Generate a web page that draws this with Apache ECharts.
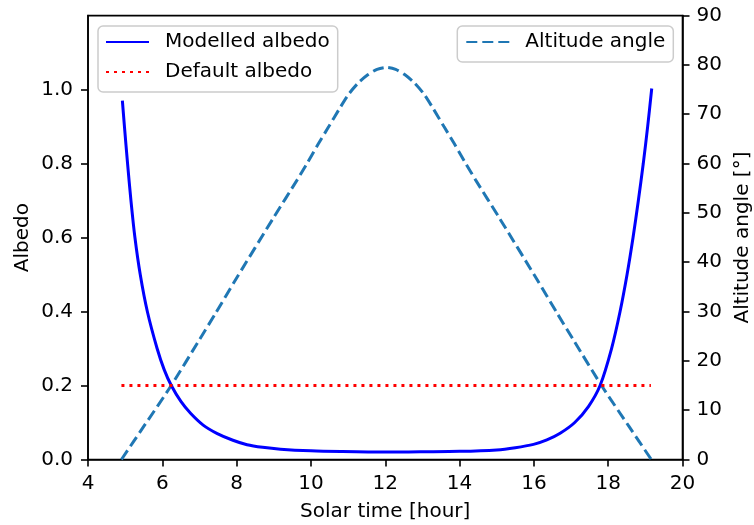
<!DOCTYPE html>
<html>
<head>
<meta charset="utf-8">
<script src="https://cdn.jsdelivr.net/npm/echarts@6/dist/echarts.min.js"></script>
<style>
html,body{margin:0;padding:0;background:#fff;}
#chart{width:754px;height:525px;}
</style>
</head>
<body>
<div id="chart"></div>
<script>
// Modelled albedo (left axis)
const albedoHours = [4.925, 4.981, 5.065, 5.156, 5.263, 5.406, 5.597, 5.86, 6.05, 6.242, 6.5, 6.76, 7.1, 7.48, 7.9, 8.28, 8.7, 9.18, 10.0, 10.8, 12.0, 12.94, 14.0, 15.0, 15.5, 15.99, 16.35, 16.707, 17.1, 17.468, 17.782, 18.091, 18.32, 18.508, 18.669, 18.812, 18.944, 19.062, 19.172];
const albedoValues = [0.970, 0.90, 0.80, 0.70, 0.60, 0.50, 0.40, 0.30, 0.243, 0.20, 0.157, 0.125, 0.093, 0.070, 0.052, 0.040, 0.033, 0.028, 0.0235, 0.0215, 0.020, 0.021, 0.022, 0.026, 0.032, 0.041, 0.053, 0.071, 0.100, 0.143, 0.20, 0.30, 0.40, 0.50, 0.60, 0.70, 0.80, 0.90, 1.003];

// Default albedo (left axis)
const defaultHours = [4.9, 19.15];
const defaultValues = [0.2, 0.2];

// Altitude angle (right axis, degrees)
const altitudeHours = [4.9, 5.5, 6.24, 7.0, 7.43, 8.0, 9.0, 9.63, 9.9, 10.2, 10.48, 10.79, 11.03, 11.28, 11.53, 11.78, 12.03, 12.28, 12.53, 12.78, 13.03, 13.27, 13.58, 13.86, 14.16, 14.43, 15.06, 16.06, 16.63, 17.06, 17.82, 18.56, 19.16];
const altitudeValues = [0, 6.7, 15, 24.3, 29.6, 36.8, 49.1, 56.7, 60.1, 64.0, 67.5, 71.4, 74.2, 76.4, 78.0, 79.1, 79.5, 79.1, 78.0, 76.4, 74.2, 71.4, 67.5, 64.0, 60.1, 56.7, 49.1, 36.8, 29.6, 24.3, 15, 6.7, 0];

const xTicks = [4, 6, 8, 10, 12, 14, 16, 18, 20];
const leftTicks = [0, 0.2, 0.4, 0.6, 0.8, 1.0];
const rightTicks = [0, 10, 20, 30, 40, 50, 60, 70, 80, 90];

const zip = (xs, ys) => xs.map((x, i) => [x, ys[i]]);
const FONT = 'DejaVu Sans';
const chart = echarts.init(document.getElementById('chart'), null, {renderer: 'canvas'});

const axisCommon = {
  axisLine: {show: true, onZero: false, lineStyle: {color: '#000', width: 1.6}},
  axisTick: {show: true, inside: false, length: 7, lineStyle: {color: '#000', width: 1.6}},
  splitLine: {show: false},
  nameMoveOverlap: false,
  nameTextStyle: {color: '#000', fontSize: 20, fontFamily: FONT},
};
const labelCommon = {color: '#000', fontSize: 20, fontFamily: FONT};
const legendCommon = {
  orient: 'vertical', top: 26, itemGap: 10,
  itemWidth: 43, itemHeight: 14,
  textStyle: {color: '#000', fontSize: 20, fontFamily: FONT, padding: [0, 0, 0, 11]},
  itemStyle: {color: 'rgba(0,0,0,0)', borderWidth: 0, opacity: 0},
  backgroundColor: 'rgba(255,255,255,0.8)', borderColor: '#cccccc', borderWidth: 1.5, borderRadius: 5,
  selectedMode: false
};

chart.setOption({
  animation: false,
  backgroundColor: '#fff',
  grid: {left: 88, right: 71.5, top: 15.6, bottom: 65.5, show: true, borderColor: '#000', borderWidth: 1.6,
    containLabel: false, outerBoundsMode: 'none'},
  legend: [
    Object.assign({}, legendCommon, {
      data: ['Modelled albedo', 'Default albedo'],
      left: 98, padding: [6, 8, 10, 7]
    }),
    Object.assign({}, legendCommon, {
      data: ['Altitude angle'],
      right: 80.7, padding: [6, 8, 10, 8]
    })
  ],
  xAxis: Object.assign({}, axisCommon, {
    type: 'value', min: 4, max: 20, interval: 2,
    name: 'Solar time [hour]', nameLocation: 'middle', nameGap: 42,
    axisLabel: Object.assign({}, labelCommon, {margin: 14, customValues: xTicks}),
    axisTick: Object.assign({}, axisCommon.axisTick, {customValues: xTicks})
  }),
  yAxis: [
    Object.assign({}, axisCommon, {
      type: 'value', min: 0, max: 1.2, interval: 0.2, position: 'left',
      name: 'Albedo', nameLocation: 'middle', nameGap: 55,
      axisLabel: Object.assign({}, labelCommon, {margin: 15, customValues: leftTicks,
        formatter: v => v.toFixed(1)}),
      axisTick: Object.assign({}, axisCommon.axisTick, {customValues: leftTicks})
    }),
    Object.assign({}, axisCommon, {
      type: 'value', min: 0, max: 90, interval: 10, position: 'right',
      name: 'Altitude angle [°]', nameLocation: 'middle', nameGap: 50,
      axisLabel: Object.assign({}, labelCommon, {margin: 14, customValues: rightTicks}),
      axisTick: Object.assign({}, axisCommon.axisTick, {customValues: rightTicks})
    })
  ],
  series: [
    {
      name: 'Modelled albedo', type: 'line', yAxisIndex: 0,
      data: zip(albedoHours, albedoValues),
      showSymbol: false, symbol: 'none', smooth: 0.3,
      lineStyle: {color: '#0000ff', width: 3},
      itemStyle: {color: '#0000ff'}, z: 3
    },
    {
      name: 'Default albedo', type: 'line', yAxisIndex: 0,
      data: zip(defaultHours, defaultValues),
      showSymbol: false, symbol: 'none',
      lineStyle: {color: '#ff0000', width: 3, type: [3, 5], cap: 'butt'},
      itemStyle: {color: '#ff0000'}, z: 3
    },
    {
      name: 'Altitude angle', type: 'line', yAxisIndex: 1,
      data: zip(altitudeHours, altitudeValues),
      showSymbol: false, symbol: 'none', smooth: 0.25,
      lineStyle: {color: '#1f77b4', width: 3, type: [11, 5], cap: 'butt'},
      itemStyle: {color: '#1f77b4'}, z: 2
    }
  ]
});
</script>
</body>
</html>
